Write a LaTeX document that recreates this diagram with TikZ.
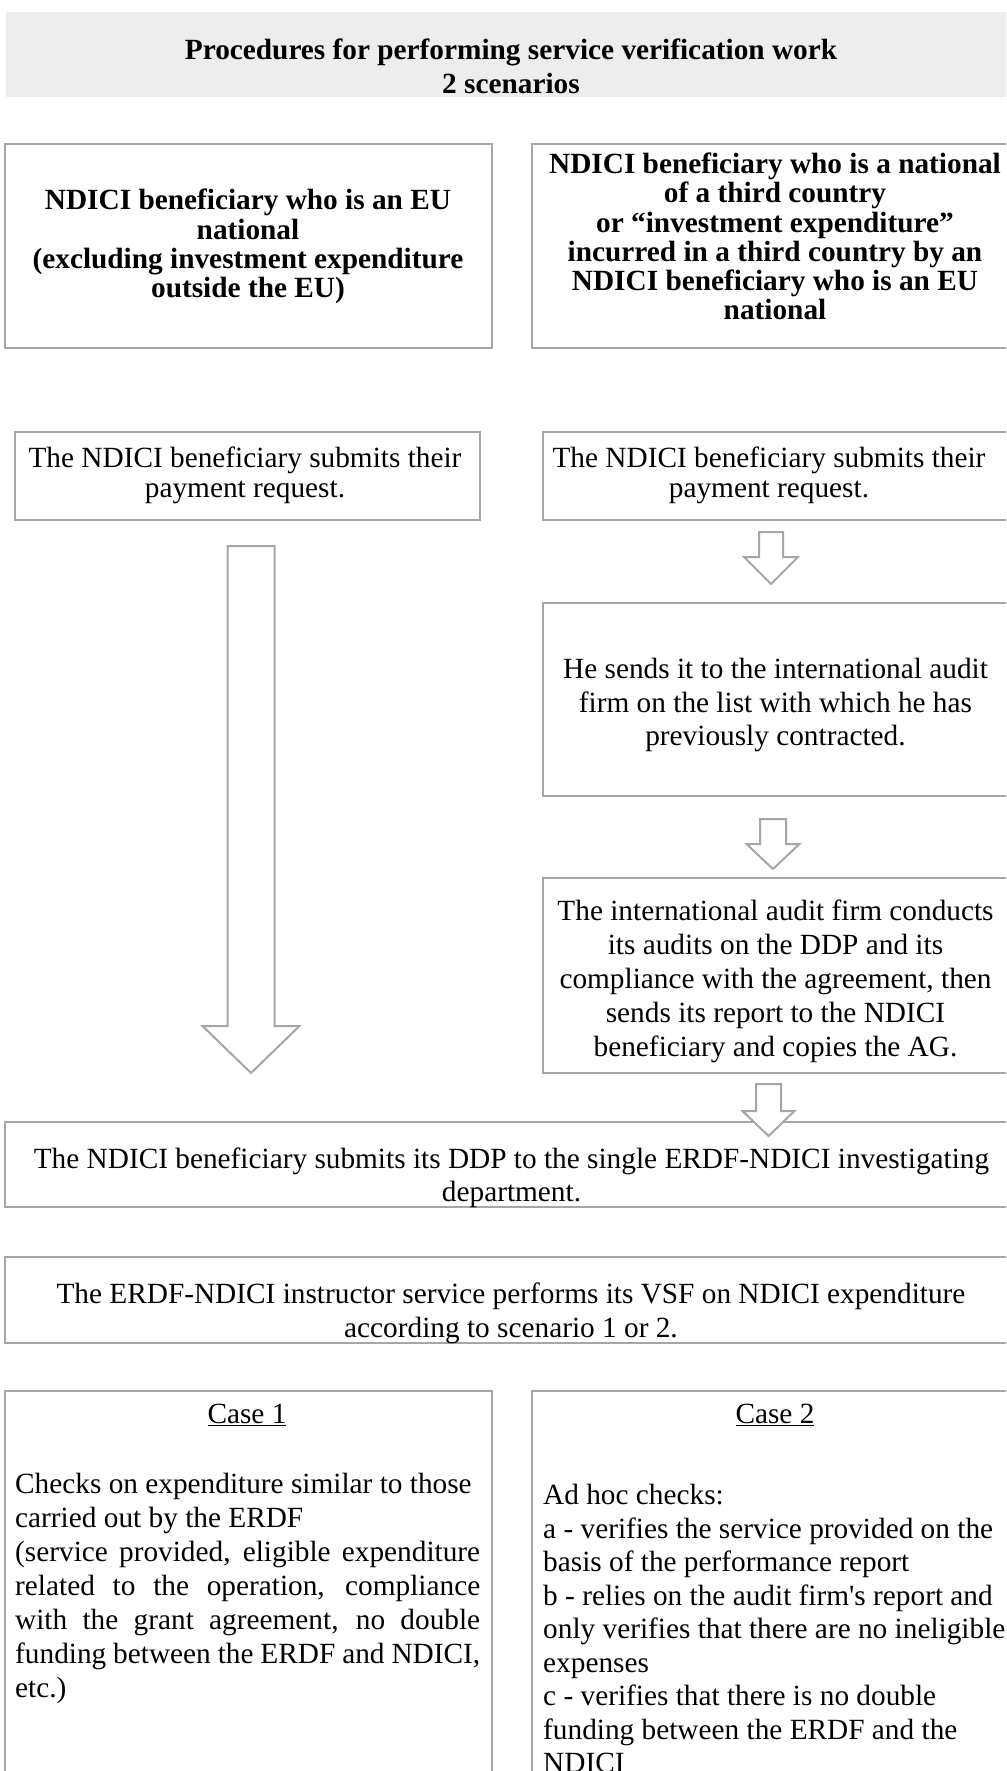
\documentclass[tikz,border=0pt]{standalone}
\usepackage{fontspec}
\setmainfont{Liberation Serif}
\usetikzlibrary{calc}
\definecolor{bordergray}{RGB}{166,166,166}
\definecolor{headgray}{RGB}{237,237,237}
\newcommand\blkarrow[6]{%
  \draw[blk] (#1-#5,#2) -- (#1+#5,#2) -- (#1+#5,#3) -- (#1+#6,#3) -- (#1,#4) -- (#1-#6,#3) -- (#1-#5,#3) -- cycle;}
\begin{document}
\begin{tikzpicture}[x=1pt,y=-1pt,
  box/.style={draw=bordergray, line width=2pt, fill=white, inner sep=0pt, rectangle},
  blk/.style={draw=bordergray, line width=2pt, fill=white, line join=miter},
  tb/.style={align=center, inner sep=0pt, font=\fontsize{29.3}{29.3}\selectfont\bfseries},
  tn/.style={align=center, inner sep=0pt, font=\fontsize{29.3}{#1}\selectfont},
  tn/.default=34
]
\useasboundingbox (0,0) rectangle (1006,1771);
\clip (0,0) rectangle (1006,1771);

% header
\node[fill=headgray, inner sep=0pt, minimum width=1010pt, minimum height=85pt] (head) at (511,54.5) {};
\node[align=center, inner sep=0pt, font=\fontsize{29.3}{34}\selectfont\bfseries] (title) at (511,66)
  {Procedures for performing service verification work\\2 scenarios};

% top boxes
\node[box, minimum width=487pt, minimum height=204pt] (b1) at (248.5,246) {};
\node[tb] (b1t) at (248,246.5) {NDICI beneficiary who is an EU\\national\\(excluding investment expenditure\\outside the EU)};
\node[box, minimum width=486pt, minimum height=204pt] (b2) at (775,246) {};
\node[tb] (b2t) at (775,236.5) {NDICI beneficiary who is a national\\of a third country\\or “investment expenditure”\\incurred in a third country by an\\NDICI beneficiary who is an EU\\national};

% submits boxes
\node[box, minimum width=465pt, minimum height=88pt] (s1) at (247.5,476) {};
\node[tn=30] (s1t) at (245,475) {The NDICI beneficiary submits their\\payment request.};
\node[box, minimum width=467pt, minimum height=88pt] (s2) at (776.5,476) {};
\node[tn=30] (s2t) at (769,475) {The NDICI beneficiary submits their\\payment request.};

% right column
\node[box, minimum width=467pt, minimum height=193pt] (h) at (776.5,699.5) {};
\node[tn=33.5] (ht) at (775.5,705) {He sends it to the international audit\\firm on the list with which he has\\previously contracted.};
\node[box, minimum width=467pt, minimum height=195pt] (au) at (776.5,975.5) {};
\node[tn=34] (aut) at (775.5,981) {The international audit firm conducts\\its audits on the DDP and its\\compliance with the agreement, then\\sends its report to the NDICI\\beneficiary and copies the AG.};

% wide boxes
\node[box, minimum width=1013pt, minimum height=85pt] (ddp) at (511.5,1164.5) {};
\node[tn=33.5] (ddpt) at (511.5,1178) {The NDICI beneficiary submits its DDP to the single ERDF-NDICI investigating\\department.};
\node[box, minimum width=1013pt, minimum height=86pt] (ins) at (511.5,1300) {};
\node[tn=34] (inst) at (511,1313) {The ERDF-NDICI instructor service performs its VSF on NDICI expenditure\\according to scenario 1 or 2.};

% arrows
\blkarrow{251}{546}{1026}{1073}{23.5}{48.5}
\blkarrow{771}{532}{557}{584}{12}{27}
\blkarrow{773}{819}{844}{869}{13}{26.5}
\blkarrow{768.5}{1084}{1111}{1136}{12.5}{26}

% case boxes
\node[box, minimum width=487pt, minimum height=409pt] (c1) at (248.5,1595.5) {};
\node[anchor=base, inner sep=0pt, font=\fontsize{29.3}{34}\selectfont] (c1h) at (247,1423) {\underline{Case 1}};
\node[anchor=north west, align=left, inner sep=0pt, font=\fontsize{29.3}{34}\selectfont] (c1b) at (15,1473)
  {Checks on expenditure similar to those\\
   carried out by the ERDF\\
   \makebox[465pt][s]{(service provided, eligible expenditure}\\
   \makebox[465pt][s]{related to the operation, compliance}\\
   \makebox[465pt][s]{with the grant agreement, no double}\\
   \makebox[465pt][s]{funding between the ERDF and NDICI,}\\
   etc.)};
\node[box, minimum width=486pt, minimum height=409pt] (c2) at (775,1595.5) {};
\node[anchor=base, inner sep=0pt, font=\fontsize{29.3}{34}\selectfont] (c2h) at (775,1423) {\underline{Case 2}};
\node[anchor=north west, align=left, inner sep=0pt, font=\fontsize{29.3}{33.5}\selectfont] (c2b) at (543,1484)
  {Ad hoc checks:\\
   a - verifies the service provided on the\\
   basis of the performance report\\
   b - relies on the audit firm\textquotesingle s report and\\
   only verifies that there are no ineligible\\
   expenses\\
   c - verifies that there is no double\\
   funding between the ERDF and the\\
   NDICI};
\end{tikzpicture}
\end{document}
